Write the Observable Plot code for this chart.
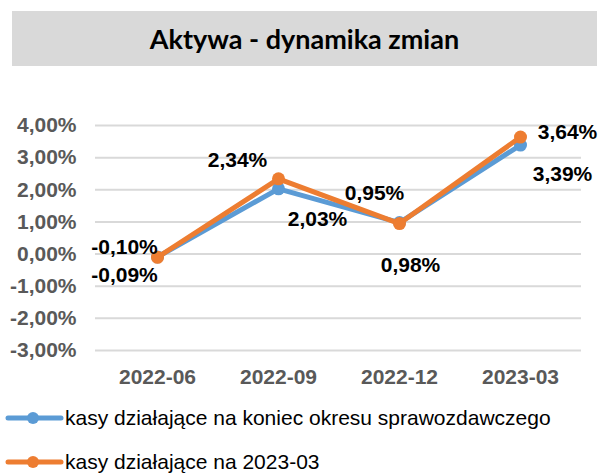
<!DOCTYPE html>
<html>
<head>
<meta charset="utf-8">
<script src="https://cdn.jsdelivr.net/npm/d3@7"></script>
<script src="https://cdn.jsdelivr.net/npm/@observablehq/plot@0.6"></script>
<style>
  html, body { margin: 0; padding: 0; background: #fff; }
  #wrap { position: relative; width: 610px; height: 474px; overflow: hidden; font-family: "Liberation Sans", Arial, sans-serif; }
  #title { position: absolute; left: 12px; top: 11px; width: 585px; height: 55px; background: #d9d9d9;
           display: flex; align-items: center; justify-content: center;
           font-family: Lato, "Open Sans", sans-serif; font-weight: 700; font-size: 27px; color: #000; z-index: 2; }
  #chart { position: absolute; left: 0; top: 0; }
  #legend { position: absolute; left: 0; top: 0; width: 610px; }
  .lg { position: absolute; left: 0; height: 30px; display: flex; align-items: center; font-size: 21px; color: #000; white-space: nowrap; }
  .lg svg { margin-left: 4px; margin-right: 1px; }
</style>
</head>
<body>
<div id="wrap">
  <div id="chart"></div>
  <div id="title">Aktywa - dynamika zmian</div>
  <div id="legend"></div>
</div>
<script>
const periods = ["2022-06", "2022-09", "2022-12", "2023-03"];
const seriesNames = ["kasy działające na koniec okresu sprawozdawczego", "kasy działające na 2023-03"];
const endOfPeriod = [-0.09, 2.03, 0.98, 3.39];
const asOf202303 = [-0.10, 2.34, 0.95, 3.64];
const yTicks = [-3, -2, -1, 0, 1, 2, 3, 4];

const colors = ["#5B9BD5", "#ED7D31"];
const seriesValues = [endOfPeriod, asOf202303];
const fmt = v => v.toFixed(2).replace(".", ",") + "%";

const rows = seriesValues.map((vals, s) => periods.map((p, i) => ({series: s, period: p, value: vals[i]})));

// label offsets (px) relative to each point, mimicking the original label placement
const labelOffsets = [
  [[-33, 18], [39, 30], [11, 43], [42, 29]],
  [[-33, -10], [-41, -19], [-25, -30], [47, -5]]
];

const labelMarks = [];
rows.forEach((r, s) => r.forEach((d, i) => {
  labelMarks.push(Plot.text([d], {
    x: "period", y: "value", text: d => fmt(d.value),
    dx: labelOffsets[s][i][0], dy: labelOffsets[s][i][1],
    fontSize: 21, fontWeight: "bold", fill: "#000"
  }));
}));

const chart = Plot.plot({
  width: 610,
  height: 395,
  marginTop: 125,
  marginBottom: 45,
  marginLeft: 95,
  marginRight: 29,
  style: {fontFamily: "'Liberation Sans', Arial, sans-serif", background: "transparent", overflow: "visible"},
  x: {type: "point", domain: periods, padding: 0.5, label: null},
  y: {domain: [-3, 4], label: null},
  marks: [
    Plot.gridY(yTicks, {stroke: "#d9d9d9", strokeOpacity: 1, strokeWidth: 2}),
    Plot.axisY(yTicks, {tickSize: 0, tickPadding: 19, tickFormat: fmt, fontSize: 21, fontWeight: "bold", fill: "#595959", label: null}),
    Plot.axisX({tickSize: 0, tickPadding: 19, fontSize: 21, fontWeight: "bold", fill: "#595959", label: null}),
    ...rows.map((r, s) => [
      Plot.line(r, {x: "period", y: "value", stroke: colors[s], strokeWidth: 5, strokeLinejoin: "round"}),
      Plot.dot(r, {x: "period", y: "value", r: 6.5, fill: colors[s], stroke: "none"})
    ]).flat(),
    ...labelMarks
  ]
});
document.getElementById("chart").appendChild(chart);

const legend = document.getElementById("legend");
seriesNames.forEach((name, s) => {
  const row = document.createElement("div");
  row.className = "lg";
  row.style.top = (s === 0 ? 403 : 447) + "px";
  row.innerHTML = `<svg width="60" height="16"><line x1="4" y1="8" x2="57" y2="8" stroke="${colors[s]}" stroke-width="5" stroke-linecap="round"/><circle cx="29" cy="8" r="6" fill="${colors[s]}"/></svg><span>${name}</span>`;
  legend.appendChild(row);
});
</script>
</body>
</html>
